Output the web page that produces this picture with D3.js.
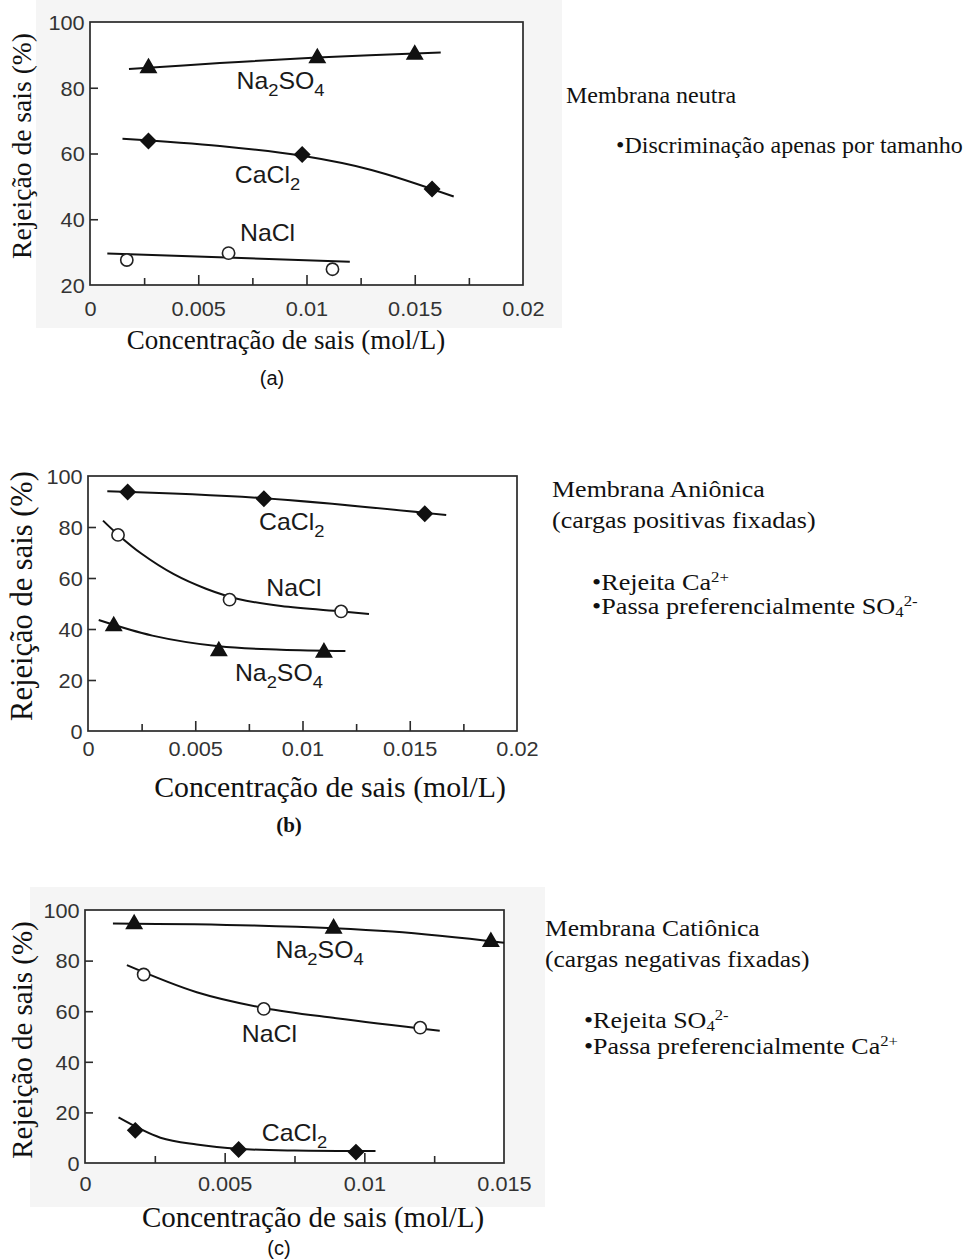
<!DOCTYPE html>
<html><head><meta charset="utf-8">
<script src="https://cdn.jsdelivr.net/npm/d3@7"></script>
<style>
html,body{margin:0;padding:0;background:#fff;}
svg{display:block;}
</style></head>
<body>
<svg id="chart" width="967" height="1259"></svg>
<script>
// ---------- DATA ----------
// Panel (a) Membrana neutra
const aNa2SO4X = [0.0027, 0.0105, 0.0150];
const aNa2SO4Y = [86.3, 89.3, 90.4];
const aNa2SO4FitX = [0.0018, 0.0060, 0.0105, 0.0162];
const aNa2SO4FitY = [85.7, 87.5, 89.2, 90.7];
const aCaCl2X = [0.0027, 0.0098, 0.0158];
const aCaCl2Y = [63.8, 59.7, 49.2];
const aCaCl2FitX = [0.0015, 0.0060, 0.0098, 0.0130, 0.0168];
const aCaCl2FitY = [64.5, 62.3, 59.3, 55.0, 46.9];
const aNaClX = [0.0017, 0.0064, 0.0112];
const aNaClY = [27.6, 29.7, 24.8];
const aNaClFitX = [0.0008, 0.0120];
const aNaClFitY = [29.6, 27.1];

// Panel (b) Membrana Aniônica
const bCaCl2X = [0.00185, 0.0082, 0.0157];
const bCaCl2Y = [93.7, 91.1, 85.2];
const bCaCl2FitX = [0.0009, 0.0082, 0.0167];
const bCaCl2FitY = [94.0, 91.3, 84.7];
const bNaClX = [0.0014, 0.0066, 0.0118];
const bNaClY = [76.9, 51.5, 46.9];
const bNaClFitX = [0.0007, 0.0014, 0.0025, 0.0040, 0.0055, 0.0070, 0.0090, 0.0118, 0.0131];
const bNaClFitY = [82.5, 77.0, 69.5, 61.5, 55.8, 51.8, 49.0, 46.9, 45.9];
const bNa2SO4X = [0.0012, 0.0061, 0.0110];
const bNa2SO4Y = [41.5, 31.7, 31.2];
const bNa2SO4FitX = [0.0005, 0.0030, 0.0061, 0.0090, 0.0120];
const bNa2SO4FitY = [43.5, 37.4, 33.2, 31.9, 31.4];

// Panel (c) Membrana Catiônica
const cNa2SO4X = [0.00176, 0.0089, 0.01453];
const cNa2SO4Y = [94.8, 93.1, 87.8];
const cNa2SO4FitX = [0.0010, 0.0060, 0.0110, 0.0150];
const cNa2SO4FitY = [94.7, 93.9, 91.5, 87.1];
const cNaClX = [0.0021, 0.0064, 0.0120];
const cNaClY = [74.5, 60.9, 53.5];
const cNaClFitX = [0.0015, 0.0040, 0.0064, 0.0090, 0.0127];
const cNaClFitY = [78.2, 67.5, 61.3, 57.2, 52.3];
const cCaCl2X = [0.0018, 0.0055, 0.0097];
const cCaCl2Y = [12.9, 5.3, 4.3];
const cCaCl2FitX = [0.0012, 0.0027, 0.0040, 0.0055, 0.0075, 0.0104];
const cCaCl2FitY = [18.0, 10.0, 7.3, 5.6, 4.9, 4.7];

// tick values / labels
const xTicksAB = [0, 0.005, 0.01, 0.015, 0.02];
const xTickLabelsAB = ["0", "0.005", "0.01", "0.015", "0.02"];
const xMinorAB = [0.0025, 0.0075, 0.0125, 0.0175];
const xTicksC = [0, 0.005, 0.01, 0.015];
const xTickLabelsC = ["0", "0.005", "0.01", "0.015"];
const xMinorC = [0.0025, 0.0075, 0.0125];
const yTicksA = [20, 40, 60, 80, 100];
const yTicksBC = [0, 20, 40, 60, 80, 100];

const yTitle = "Rejeição de sais (%)";
const xTitle = "Concentração de sais (mol/L)";

// ---------- DRAW ----------
const svg = d3.select("#chart");
const zip = (xs, ys) => xs.map((x, i) => [x, ys[i]]);
const sans = "'Liberation Sans', Arial, sans-serif";
const serif = "'Liberation Serif', 'Times New Roman', serif";

// faint scan backgrounds
svg.append("rect").attr("x", 36).attr("y", 0).attr("width", 526).attr("height", 328).attr("fill", "#f5f5f5");
svg.append("rect").attr("x", 30).attr("y", 887).attr("width", 515).attr("height", 320).attr("fill", "#f5f5f5");

function chemLabel(g, x, y, parts) {
  const t = g.append("text").attr("transform", `translate(${x},${y}) scale(1.08,1)`)
    .attr("text-anchor", "middle")
    .attr("font-family", sans)
    .attr("font-size", 23).attr("fill", "#1a1a1a");
  let shift = 0;
  parts.forEach(p => {
    const target = p.sub ? 7 : 0;
    t.append("tspan").attr("dy", target - shift).attr("font-size", p.sub ? 17 : 23).text(p.t);
    shift = target;
  });
}

function drawPanel(cfg) {
  const g = svg.append("g");
  const x = d3.scaleLinear().domain(cfg.xDomain).range([cfg.left, cfg.right]);
  const y = d3.scaleLinear().domain(cfg.yDomain).range([cfg.bottom, cfg.top]);

  // box
  g.append("rect").attr("x", cfg.left).attr("y", cfg.top)
    .attr("width", cfg.right - cfg.left).attr("height", cfg.bottom - cfg.top)
    .attr("fill", "#fff").attr("stroke", "#2a2a2a").attr("stroke-width", 1.7);

  // x axis (inward ticks)
  const xAxis = d3.axisBottom(x).tickValues(cfg.xTicks).tickSize(-10)
    .tickFormat((d, i) => cfg.xTickLabels[i]);
  const xa = g.append("g").attr("transform", `translate(0,${cfg.bottom})`).call(xAxis);
  xa.select(".domain").remove();
  xa.selectAll(".tick line").attr("stroke", "#2a2a2a").attr("stroke-width", 1.6)
    .filter(d => d === cfg.xDomain[0] || d === cfg.xDomain[1]).remove();
  xa.selectAll(".tick text").attr("y", cfg.xLabelDy).attr("dy", 0)
    .attr("transform", "scale(1.06,1)")
    .attr("font-family", sans)
    .attr("font-size", 20.5).attr("fill", "#333");
  const xm = g.append("g").attr("transform", `translate(0,${cfg.bottom})`)
    .call(d3.axisBottom(x).tickValues(cfg.xMinor).tickSize(-7).tickFormat(""));
  xm.select(".domain").remove();
  xm.selectAll(".tick line").attr("stroke", "#2a2a2a").attr("stroke-width", 1.6);

  // y axis (inward ticks)
  const ya = g.append("g").attr("transform", `translate(${cfg.left},0)`)
    .call(d3.axisLeft(y).tickValues(cfg.yTicks).tickSize(-8));
  ya.select(".domain").remove();
  ya.selectAll(".tick line").attr("stroke", "#2a2a2a").attr("stroke-width", 1.6)
    .filter(d => d === cfg.yDomain[0] || d === cfg.yDomain[1]).remove();
  ya.selectAll(".tick text").attr("x", -5).attr("dy", "0.36em")
    .attr("transform", "scale(1.06,1)")
    .attr("font-family", sans)
    .attr("font-size", 20.5).attr("fill", "#333");

  // fitted curves
  const line = d3.line().x(d => x(d[0])).y(d => y(d[1])).curve(d3.curveCatmullRom.alpha(0.5));
  cfg.series.forEach(s => {
    g.append("path").datum(zip(s.fitX, s.fitY)).attr("d", line)
      .attr("fill", "none").attr("stroke", "#111").attr("stroke-width", 2);
  });

  // markers
  cfg.series.forEach(s => {
    const pts = zip(s.x, s.y);
    let sym, fill, stroke, rot = 0;
    if (s.marker === "triangle") { sym = d3.symbol(d3.symbolTriangle, 100); fill = "#111"; stroke = "#111"; }
    else if (s.marker === "diamond") { sym = d3.symbol(d3.symbolSquare, 108); fill = "#111"; stroke = "#111"; rot = 45; }
    else { sym = d3.symbol(d3.symbolCircle, 118); fill = "#fff"; stroke = "#222"; }
    g.selectAll(null).data(pts).join("path")
      .attr("d", sym)
      .attr("transform", d => `translate(${x(d[0])},${y(d[1]) + (s.marker === "triangle" ? 1 : 0)}) rotate(${rot})`)
      .attr("fill", fill).attr("stroke", stroke).attr("stroke-width", 1.6);
  });

  // chemical labels
  cfg.series.forEach(s => chemLabel(g, x(s.labelAt[0]), y(s.labelAt[1]), s.label));

  // axis titles
  g.append("text").attr("transform", `translate(${cfg.yTitleX},${cfg.yTitleY}) rotate(-90)`)
    .attr("text-anchor", "middle")
    .attr("font-family", serif)
    .attr("font-size", cfg.yTitleSize).attr("fill", "#111").text(yTitle);
  g.append("text").attr("x", cfg.xTitleX).attr("y", cfg.xTitleY)
    .attr("text-anchor", "middle")
    .attr("font-family", serif)
    .attr("font-size", cfg.xTitleSize).attr("fill", "#111").text(xTitle);
  g.append("text").attr("x", cfg.tagX).attr("y", cfg.tagY)
    .attr("text-anchor", "middle")
    .attr("font-family", cfg.tagSerif ? serif : sans)
    .attr("font-weight", cfg.tagSerif ? "bold" : "normal")
    .attr("font-size", cfg.tagSize).attr("fill", "#111").text(cfg.tag);
}

const NA2SO4 = [{t: "Na"}, {t: "2", sub: true}, {t: "SO"}, {t: "4", sub: true}];
const CACL2 = [{t: "CaCl"}, {t: "2", sub: true}];
const NACL = [{t: "NaCl"}];

drawPanel({
  left: 90, right: 523, top: 22, bottom: 285,
  xDomain: [0, 0.02], yDomain: [20, 100],
  xTicks: xTicksAB, xTickLabels: xTickLabelsAB, xMinor: xMinorAB, yTicks: yTicksA,
  xLabelDy: 31,
  series: [
    {x: aNa2SO4X, y: aNa2SO4Y, fitX: aNa2SO4FitX, fitY: aNa2SO4FitY, marker: "triangle", label: NA2SO4, labelAt: [0.0088, 79.7]},
    {x: aCaCl2X, y: aCaCl2Y, fitX: aCaCl2FitX, fitY: aCaCl2FitY, marker: "diamond", label: CACL2, labelAt: [0.0082, 51.0]},
    {x: aNaClX, y: aNaClY, fitX: aNaClFitX, fitY: aNaClFitY, marker: "circle", label: NACL, labelAt: [0.0082, 33.5]}
  ],
  yTitleX: 31, yTitleY: 146, yTitleSize: 27.6,
  xTitleX: 286, xTitleY: 349, xTitleSize: 27,
  tag: "(a)", tagX: 272, tagY: 385, tagSize: 20, tagSerif: false
});

drawPanel({
  left: 88, right: 517, top: 476, bottom: 731,
  xDomain: [0, 0.02], yDomain: [0, 100],
  xTicks: xTicksAB, xTickLabels: xTickLabelsAB, xMinor: xMinorAB, yTicks: yTicksBC,
  xLabelDy: 25,
  series: [
    {x: bCaCl2X, y: bCaCl2Y, fitX: bCaCl2FitX, fitY: bCaCl2FitY, marker: "diamond", label: CACL2, labelAt: [0.0095, 78.9]},
    {x: bNaClX, y: bNaClY, fitX: bNaClFitX, fitY: bNaClFitY, marker: "circle", label: NACL, labelAt: [0.0096, 52.8]},
    {x: bNa2SO4X, y: bNa2SO4Y, fitX: bNa2SO4FitX, fitY: bNa2SO4FitY, marker: "triangle", label: NA2SO4, labelAt: [0.0089, 19.7]}
  ],
  yTitleX: 32, yTitleY: 596, yTitleSize: 30.5,
  xTitleX: 330, xTitleY: 797, xTitleSize: 29.8,
  tag: "(b)", tagX: 289, tagY: 832, tagSize: 21, tagSerif: true
});

drawPanel({
  left: 85, right: 504, top: 910, bottom: 1163,
  xDomain: [0, 0.015], yDomain: [0, 100],
  xTicks: xTicksC, xTickLabels: xTickLabelsC, xMinor: xMinorC, yTicks: yTicksBC,
  xLabelDy: 28,
  series: [
    {x: cNa2SO4X, y: cNa2SO4Y, fitX: cNa2SO4FitX, fitY: cNa2SO4FitY, marker: "triangle", label: NA2SO4, labelAt: [0.0084, 81.1]},
    {x: cNaClX, y: cNaClY, fitX: cNaClFitX, fitY: cNaClFitY, marker: "circle", label: NACL, labelAt: [0.0066, 47.9]},
    {x: cCaCl2X, y: cCaCl2Y, fitX: cCaCl2FitX, fitY: cCaCl2FitY, marker: "diamond", label: CACL2, labelAt: [0.0075, 8.6]}
  ],
  yTitleX: 32, yTitleY: 1040, yTitleSize: 29,
  xTitleX: 313, xTitleY: 1227, xTitleSize: 29,
  tag: "(c)", tagX: 279, tagY: 1255, tagSize: 20, tagSerif: false
});

// ---------- right-side notes ----------
function note(x, y, parts, size, sx) {
  const t = svg.append("text").attr("transform", `translate(${x},${y}) scale(${sx},1)`)
    .attr("font-family", serif).attr("font-size", size).attr("fill", "#111");
  let shift = 0;
  parts.forEach(p => {
    const target = p.sup ? -8 : (p.sub ? 3 : 0);
    t.append("tspan").attr("dy", target - shift)
      .attr("font-size", (p.sup || p.sub) ? size * 0.64 : size).text(p.t);
    shift = target;
  });
}
note(566, 103, [{t: "Membrana neutra"}], 23, 1.045);
note(616, 153, [{t: "•Discriminação apenas por tamanho"}], 23, 1.045);

note(552, 497, [{t: "Membrana Aniônica"}], 23, 1.13);
note(552, 528, [{t: "(cargas positivas fixadas)"}], 23, 1.13);
note(592, 590, [{t: "•Rejeita Ca"}, {t: "2+", sup: true}], 23, 1.14);
note(592, 614, [{t: "•Passa preferencialmente SO"}, {t: "4", sub: true}, {t: "2-", sup: true}], 23, 1.14);

note(545, 936, [{t: "Membrana Catiônica"}], 23, 1.11);
note(545, 967, [{t: "(cargas negativas fixadas)"}], 23, 1.11);
note(584, 1028, [{t: "•Rejeita SO"}, {t: "4", sub: true}, {t: "2-", sup: true}], 23, 1.13);
note(584, 1054, [{t: "•Passa preferencialmente Ca"}, {t: "2+", sup: true}], 23, 1.13);
</script>
</body></html>
